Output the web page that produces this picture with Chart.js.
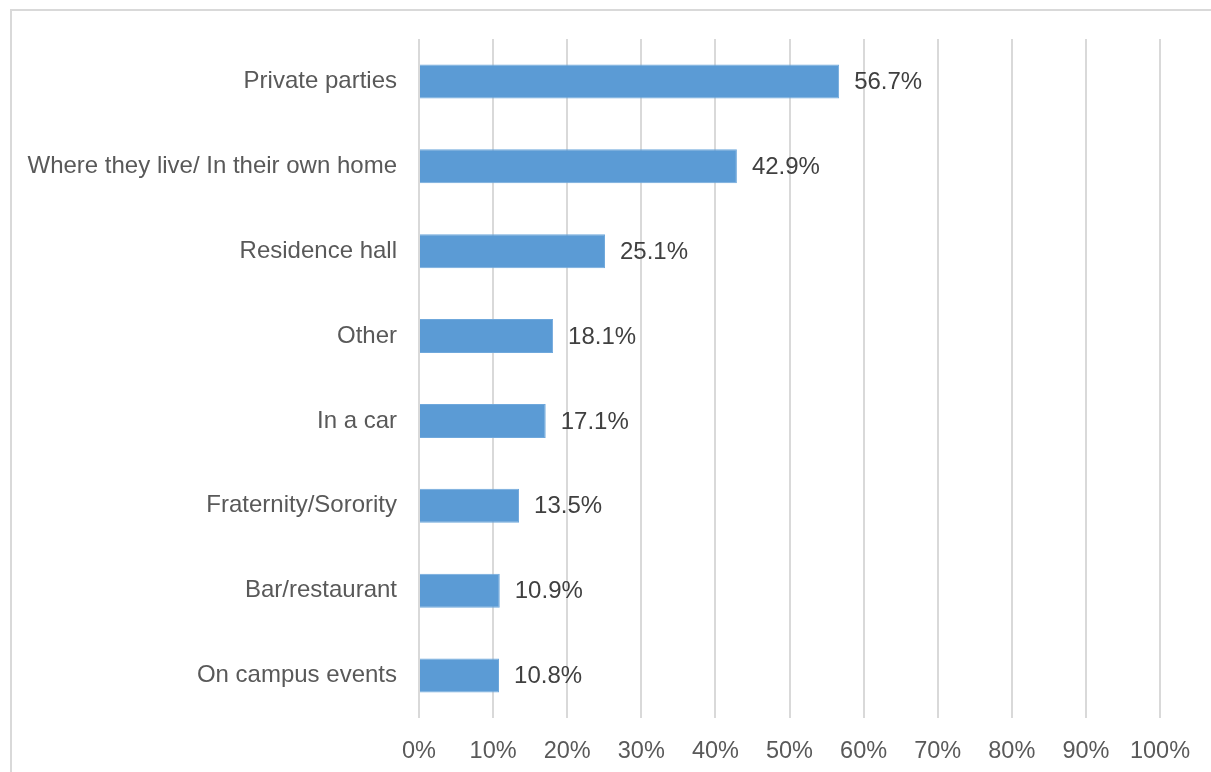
<!DOCTYPE html>
<html>
<head>
<meta charset="utf-8">
<script src="https://cdn.jsdelivr.net/npm/chart.js@4.4.1/dist/chart.umd.min.js"></script>
<style>
html,body{margin:0;padding:0;background:#fff;}
#wrap{position:relative;width:1211px;height:772px;}
</style>
</head>
<body>
<div id="wrap"><canvas id="c" width="1211" height="772"></canvas></div>
<script>
const categories = ["Private parties","Where they live/ In their own home","Residence hall","Other","In a car","Fraternity/Sorority","Bar/restaurant","On campus events"];
const values = [56.7, 42.9, 25.1, 18.1, 17.1, 13.5, 10.9, 10.8];
const xTicks = [0,10,20,30,40,50,60,70,80,90,100];

const FONT = "Liberation Sans, Arial, sans-serif";

const frame = {
  id: 'frame',
  beforeDraw(chart){
    const ctx = chart.ctx;
    ctx.save();
    ctx.strokeStyle = '#d9d9d9';
    ctx.lineWidth = 2;
    ctx.strokeRect(11, 10, 1220, 780);
    ctx.restore();
  }
};
const dataLabels = {
  id: 'dataLabels',
  afterDatasetsDraw(chart){
    const ctx = chart.ctx;
    const meta = chart.getDatasetMeta(0);
    ctx.save();
    ctx.font = "24px " + FONT;
    ctx.fillStyle = '#404040';
    ctx.textAlign = 'left';
    ctx.textBaseline = 'middle';
    meta.data.forEach((bar, i) => {
      ctx.fillText(values[i].toFixed(1) + '%', bar.x + 15, bar.y + 1);
    });
    ctx.restore();
  }
};

new Chart(document.getElementById('c'), {
  type: 'bar',
  data: {
    labels: categories,
    datasets: [{
      data: values,
      backgroundColor: '#5b9bd5',
      borderColor: '#6fa8dc',
      borderWidth: 1,
      barPercentage: 0.4,
      categoryPercentage: 1
    }]
  },
  options: {
    indexAxis: 'y',
    responsive: false,
    animation: false,
    devicePixelRatio: 1,
    layout: { padding: { left: 0, top: 39, right: 51, bottom: 0 } },
    plugins: { legend: { display: false }, tooltip: { enabled: false } },
    scales: {
      x: {
        min: 0, max: 100,
        afterBuildTicks(scale){ scale.ticks = xTicks.map(v => ({value: v})); },
        afterFit(scale){ scale.height = 54; },
        grid: { color: '#d9d9d9', lineWidth: 2, drawTicks: false },
        border: { display: false },
        ticks: {
          padding: 19,
          color: '#595959',
          font: { family: FONT, size: 23.5 },
          callback: v => v + '%'
        }
      },
      y: {
        afterFit(scale){ scale.width = 419; },
        grid: { display: false, drawTicks: false },
        border: { display: false },
        ticks: {
          padding: 22,
          color: '#595959',
          font: { family: FONT, size: 24 }
        }
      }
    }
  },
  plugins: [frame, dataLabels]
});
</script>
</body>
</html>
